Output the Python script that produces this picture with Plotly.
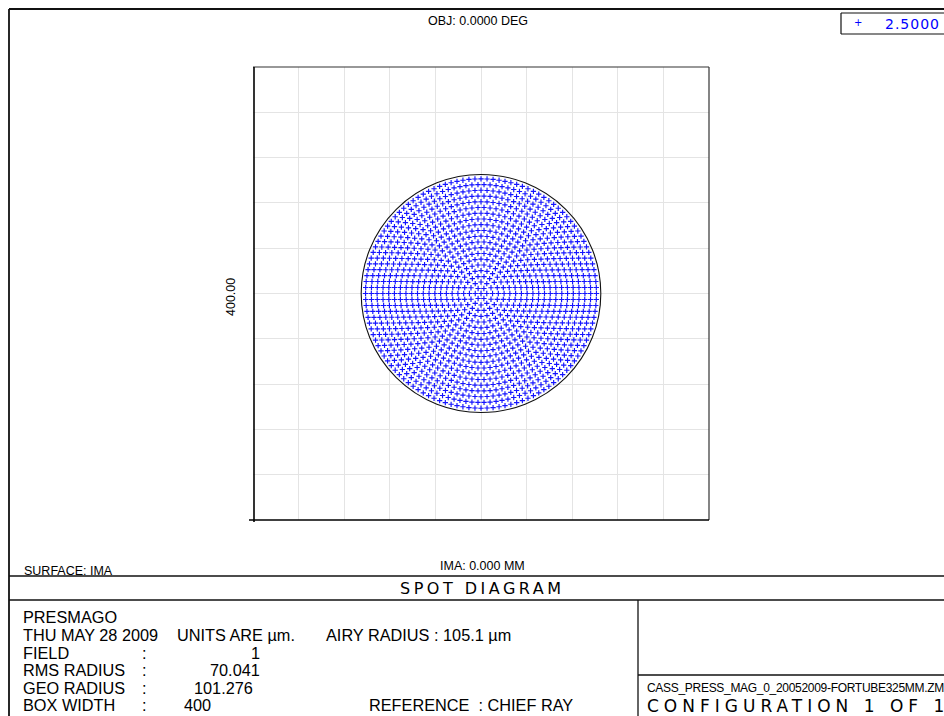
import numpy as np
import plotly.graph_objects as go

# ---------------- data ----------------
BOX_WIDTH = 400            # micrometres, full width of plot box
AIRY_RADIUS = 105.1        # micrometres
RMS_RADIUS = 70.041
GEO_RADIUS = 101.276
FIELD_NUMBER = 1
RING_COUNT = 20            # hexapolar rings traced
WAVELENGTH = 2.5
OBJ_FIELD = "0.0000"
IMA_HEIGHT = "0.000"
LENS_TITLE = "PRESMAGO"
DATE_TEXT = "THU MAY 28 2009"
FILE_NAME = "CASS_PRESS_MAG_0_20052009-FORTUBE325MM.ZMX"
CONFIG_TEXT = "CONFIGURATION 1 OF 1"

# Zemax hexapolar pupil sampling: ring k carries 6k rays, outermost ring = GEO radius
spot_x, spot_y = [0.0], [0.0]
for k in range(1, RING_COUNT + 1):
    r = GEO_RADIUS * k / RING_COUNT
    n = 6 * k
    for j in range(n):
        a = 2 * np.pi * j / n
        spot_x.append(r * np.cos(a))
        spot_y.append(r * np.sin(a))

# ---------------- layout helpers ----------------
W, H = 944, 716
def px(x):
    return x / W
def py(y):
    return 1 - y / H

TXT = "Liberation Sans, Arial, sans-serif"
WIDE = "DejaVu Sans, Verdana, sans-serif"

fig = go.Figure()
fig.add_trace(go.Scatter(
    x=spot_x, y=spot_y, mode="markers",
    marker=dict(symbol="cross-thin", size=3.8, line=dict(width=1.15, color="#1414ff"), color="#1414ff"),
    hoverinfo="skip", showlegend=False))

half = BOX_WIDTH / 2
fig.update_layout(
    width=W, height=H, autosize=False,
    margin=dict(l=0, r=0, t=0, b=0),
    paper_bgcolor="white", plot_bgcolor="white",
    xaxis=dict(domain=[px(253), px(709)], range=[-half, half], dtick=BOX_WIDTH / 10, tick0=0,
               showgrid=True, gridcolor="#e4e4e4", gridwidth=1, zeroline=False,
               showticklabels=False, ticks="", showline=False, fixedrange=True),
    yaxis=dict(domain=[py(520), py(67)], range=[-half, half], dtick=BOX_WIDTH / 10, tick0=0,
               showgrid=True, gridcolor="#e4e4e4", gridwidth=1, zeroline=False,
               showticklabels=False, ticks="", showline=False, fixedrange=True),
)

shapes = []
def pline(x0, y0, x1, y1, color="#000", width=1.3):
    shapes.append(dict(type="line", xref="paper", yref="paper",
                       x0=px(x0), y0=py(y0), x1=px(x1), y1=py(y1),
                       line=dict(color=color, width=width)))

# Airy disk
shapes.append(dict(type="circle", xref="x", yref="y",
                   x0=-AIRY_RADIUS, y0=-AIRY_RADIUS, x1=AIRY_RADIUS, y1=AIRY_RADIUS,
                   line=dict(color="#111", width=1.1)))

# plot box
pline(253, 67, 709, 67, "#333", 1.2)
pline(709, 67, 709, 520, "#333", 1.2)
pline(254, 67, 254, 522, "#000", 1.6)
pline(249, 520, 709, 520, "#000", 1.6)

# outer frame and panels
pline(9, 9, W, 9, "#111", 1.8)
pline(9, 9, 9, H, "#111", 1.8)
pline(9, 576, W, 576, "#111", 1.3)
pline(9, 600, W, 600, "#111", 1.3)
pline(638, 600, 638, H, "#111", 1.3)
pline(638, 675, W, 675, "#111", 1.3)
# legend box
pline(841, 13, W, 13, "#111", 1.2)
pline(841, 13, 841, 34, "#111", 1.2)
pline(841, 34, W, 34, "#111", 1.2)

fig.update_layout(shapes=shapes)

anns = []
def ann(text, x, y, size, xanchor="left", font=TXT, color="#000", angle=0):
    anns.append(dict(text=text, x=px(x), y=py(y), xref="paper", yref="paper",
                     xanchor=xanchor, yanchor="middle", showarrow=False,
                     textangle=angle, borderpad=0,
                     font=dict(family=font, size=size, color=color)))

def spaced(t, sp):
    return f'<span style="letter-spacing:{sp}px">{t}</span>'

ann(f"OBJ: {OBJ_FIELD} DEG", 478, 21, 12.5, "center")
ann("+", 858, 23, 10, "center", WIDE, "#0000ff")
ann(spaced(f"{WAVELENGTH:.4f}", 1.0), 884, 24, 14, "left", WIDE, "#0000ff")
ann(f"{BOX_WIDTH:.2f}", 231, 297, 12.5, "center", TXT, angle=-90)
ann(f"IMA: {IMA_HEIGHT} MM", 482, 566, 12.5, "center")
ann("SURFACE: IMA", 23, 571, 12.5, "left")
ann(spaced("SPOT DIAGRAM", 3.5), 482, 588, 16, "center", WIDE)

rows = [617, 635, 652.5, 670, 687.5, 705]
fs = 16.3
ann(LENS_TITLE, 22, rows[0], fs)
ann(DATE_TEXT, 22, rows[1], fs)
ann("UNITS ARE µm.", 176, rows[1], fs)
ann(f"AIRY RADIUS : {AIRY_RADIUS:.1f} µm", 325, rows[1], fs)
labels = ["FIELD", "RMS RADIUS", "GEO RADIUS", "BOX WIDTH"]
for lab, yy in zip(labels, rows[2:]):
    ann(lab, 22, yy, fs)
    ann(":", 141, yy, fs)
ann(f"{FIELD_NUMBER}", 261, rows[2], fs, "right")
ann(f"{RMS_RADIUS:.3f}", 261, rows[3], fs, "right")
ann(f"{GEO_RADIUS:.3f}", 193, rows[4], fs, "left")
ann(f"{BOX_WIDTH}", 183, rows[5], fs, "left")
ann("REFERENCE  : CHIEF RAY", 368, rows[5], fs, "left")

ann(spaced(FILE_NAME, -0.3), 646, 688, 12, "left")
ann(spaced(CONFIG_TEXT, 5), 646, 706, 17, "left", WIDE)

fig.update_layout(annotations=anns)
fig.write_html("out.html",
               config={"displayModeBar": False, "staticPlot": True},
               post_script="document.body.style.margin='0';document.body.style.overflow='hidden';")
